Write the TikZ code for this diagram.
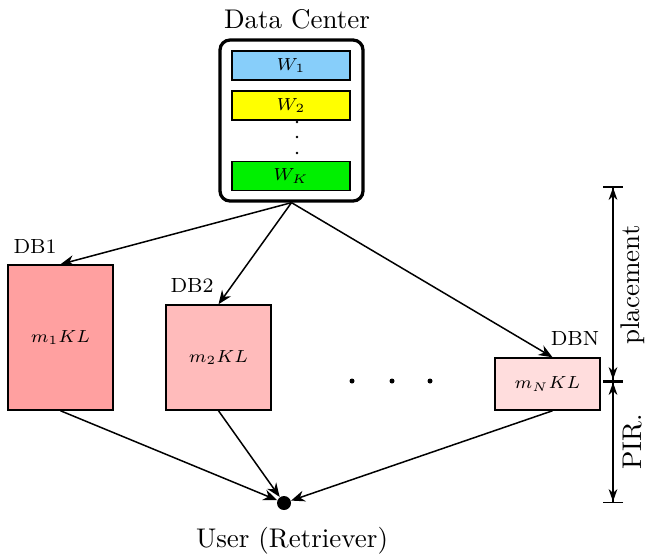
\documentclass[tikz,border=0pt]{standalone}
\usetikzlibrary{arrows.meta}
\definecolor{wone}{RGB}{135,206,250}
\definecolor{wtwo}{RGB}{255,255,0}
\definecolor{wk}{RGB}{0,240,0}
\definecolor{dbone}{RGB}{255,160,160}
\definecolor{dbtwo}{RGB}{255,187,187}
\definecolor{dbn}{RGB}{255,221,221}
\begin{document}
\begin{tikzpicture}[x=0.4pt,y=-0.4pt,
  wbox/.style={draw,line width=0.5pt,minimum width=47.2pt,minimum height=11.6pt,inner sep=0pt,font=\fontsize{7}{8}\selectfont},
  dbbox/.style={draw,line width=0.6pt,minimum width=42pt,inner sep=0pt,font=\fontsize{7.3}{9}\selectfont},
  dblabel/.style={font=\fontsize{8.2}{10}\selectfont},
  bigtext/.style={font=\fontsize{10.8}{12}\selectfont},
  conn/.style={line width=0.6pt,-{Stealth[length=5.5pt,width=4.4pt]}},
  dim/.style={line width=0.6pt,{Bar[width=8pt]Stealth[length=5pt,width=3.5pt]}-{Stealth[length=5pt,width=3.5pt]Bar[width=8pt]}}
]
\useasboundingbox (0,0) rectangle (645,555);
% Data center
\node[draw,line width=1.3pt,rounded corners=4pt,minimum width=57.2pt,minimum height=64.4pt,inner sep=0pt] (dc) at (291.5,120.5) {};
\node[bigtext] (dctext) at (297,19) {Data Center};
\node[wbox,fill=wone] (w1) at (291,65.5) {$W_1$};
\node[wbox,fill=wtwo] (w2) at (291,105.5) {$W_2$};
\node[wbox,fill=wk] (wk) at (291,176) {$W_K$};
\node[circle,fill,inner sep=0pt,minimum size=1.1pt] (d1) at (297,122) {};
\node[circle,fill,inner sep=0pt,minimum size=1.1pt] (d2) at (297,137) {};
\node[circle,fill,inner sep=0pt,minimum size=1.1pt] (d3) at (297,153) {};
% DBs
\node[dbbox,fill=dbone,minimum height=58pt] (db1) at (60.5,337.5) {$m_1KL$};
\node[dbbox,fill=dbtwo,minimum height=42pt] (db2) at (218.5,357.5) {$m_2KL$};
\node[dbbox,fill=dbn,minimum height=20.8pt] (dbN) at (547.5,384) {$m_NKL$};
\node[dblabel] (l1) at (35,246) {DB1};
\node[dblabel] (l2) at (192,285) {DB2};
\node[dblabel] (lN) at (575,338) {DBN};
% dots
\node[circle,fill,inner sep=0pt,minimum size=2pt] (e1) at (352,381) {};
\node[circle,fill,inner sep=0pt,minimum size=2pt] (e2) at (392,381) {};
\node[circle,fill,inner sep=0pt,minimum size=2pt] (e3) at (430,381) {};
% user
\node[circle,fill,inner sep=0pt,minimum size=5.6pt] (user) at (284,503) {};
\node[bigtext] (utext) at (292,541) {User (Retriever)};
% connectors
\draw[conn] (dc.south) -- (db1.north);
\draw[conn] (dc.south) -- (db2.north);
\draw[conn] (dc.south) -- ([xshift=2pt]dbN.north);
\draw[conn] (db1.south) -- (user);
\draw[conn] (db2.south) -- (user);
\draw[conn] ([xshift=2pt]dbN.south) -- (user);
% dimensions
\coordinate (t0) at (613,186);
\coordinate (t1) at (613,381);
\coordinate (t2) at (613,503);
\draw[dim] (t0) -- (t1);
\draw[dim] (t1) -- (t2);
\node[bigtext,rotate=90] (pl) at (633,285) {placement};
\node[bigtext,rotate=90] (pir) at (633,442) {PIR.};
\end{tikzpicture}
\end{document}
